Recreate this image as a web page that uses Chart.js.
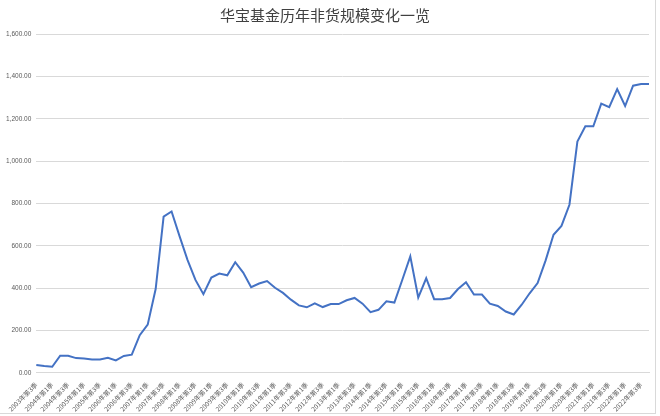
<!DOCTYPE html>
<html>
<head>
<meta charset="utf-8">
<script src="https://cdn.jsdelivr.net/npm/chart.js@4/dist/chart.umd.min.js"></script>
<style>
  body { margin: 0; background: #fff; }
  #box { width: 655px; height: 413px; border-right: 1px solid #d9d9d9; border-bottom: 1px solid #d9d9d9; }
</style>
</head>
<body>
<div id="box"><canvas id="aumChart"></canvas></div>
<script>
// quarterly, 2003Q3 .. 2022Q4 (亿元)
var quarterLabels = [
  "2003年第3季","2003年第4季",
  "2004年第1季","2004年第2季","2004年第3季","2004年第4季",
  "2005年第1季","2005年第2季","2005年第3季","2005年第4季",
  "2006年第1季","2006年第2季","2006年第3季","2006年第4季",
  "2007年第1季","2007年第2季","2007年第3季","2007年第4季",
  "2008年第1季","2008年第2季","2008年第3季","2008年第4季",
  "2009年第1季","2009年第2季","2009年第3季","2009年第4季",
  "2010年第1季","2010年第2季","2010年第3季","2010年第4季",
  "2011年第1季","2011年第2季","2011年第3季","2011年第4季",
  "2012年第1季","2012年第2季","2012年第3季","2012年第4季",
  "2013年第1季","2013年第2季","2013年第3季","2013年第4季",
  "2014年第1季","2014年第2季","2014年第3季","2014年第4季",
  "2015年第1季","2015年第2季","2015年第3季","2015年第4季",
  "2016年第1季","2016年第2季","2016年第3季","2016年第4季",
  "2017年第1季","2017年第2季","2017年第3季","2017年第4季",
  "2018年第1季","2018年第2季","2018年第3季","2018年第4季",
  "2019年第1季","2019年第2季","2019年第3季","2019年第4季",
  "2020年第1季","2020年第2季","2020年第3季","2020年第4季",
  "2021年第1季","2021年第2季","2021年第3季","2021年第4季",
  "2022年第1季","2022年第2季","2022年第3季","2022年第4季"
];

var scaleValues = [
  38, 33, 29, 81, 81, 70, 68, 64, 64, 72,
  59, 80, 86, 178, 228, 396, 738, 762, 646, 534,
  439, 372, 450, 469, 461, 523, 474, 405, 422, 434,
  402, 378, 346, 319, 310, 329, 311, 325, 325, 343,
  354, 327, 287, 298, 338, 332, 440, 550, 356, 447,
  348, 348, 354, 396, 428, 370, 370, 327, 316, 290,
  276, 322, 376, 424, 530, 652, 694, 794, 1092, 1164,
  1164, 1271, 1255, 1340, 1260, 1356, 1364, 1364
];

var yTicks = { min: 0, max: 1600, step: 200 };
var chartTitle = "华宝基金历年非货规模变化一览";

var ctx = document.getElementById('aumChart').getContext('2d');
var aumChart = new Chart(ctx, {
    type: 'line',
    data: {
        labels: quarterLabels,
        datasets: [{
            label: '非货规模',
            data: scaleValues,
            borderColor: '#4472c4',
            borderWidth: 2,
            pointRadius: 0,
            tension: 0,
            fill: false
        }]
    },
    options: {
        responsive: true,
        maintainAspectRatio: false,
        animation: false,
        layout: { padding: { left: 1, right: 6, top: 2, bottom: 0 } },
        plugins: {
            legend: { display: false },
            tooltip: { enabled: false },
            title: {
                display: true,
                text: chartTitle,
                color: '#404040',
                font: { family: '"Noto Sans CJK SC"', size: 15, weight: 'normal' },
                padding: { top: 4, bottom: 10 }
            }
        },
        scales: {
            x: {
                offset: false,
                grid: { display: false },
                border: { color: '#d9d9d9' },
                ticks: {
                    autoSkip: false,
                    maxRotation: 45,
                    minRotation: 45,
                    padding: 0,
                    color: '#595959',
                    font: { family: '"Noto Sans CJK SC"', size: 6.5 },
                    callback: function (val, i) {
                        return i % 2 === 0 ? quarterLabels[i] : '';
                    }
                }
            },
            y: {
                min: yTicks.min,
                max: yTicks.max,
                grid: { color: '#d9d9d9', drawTicks: false },
                border: { display: false },
                ticks: {
                    stepSize: yTicks.step,
                    padding: 5,
                    color: '#595959',
                    font: { family: 'Liberation Sans', size: 6.5 },
                    callback: function (v) {
                        return v.toLocaleString('en-US', { minimumFractionDigits: 2, maximumFractionDigits: 2 });
                    }
                }
            }
        }
    }
});
</script>
</body>
</html>
